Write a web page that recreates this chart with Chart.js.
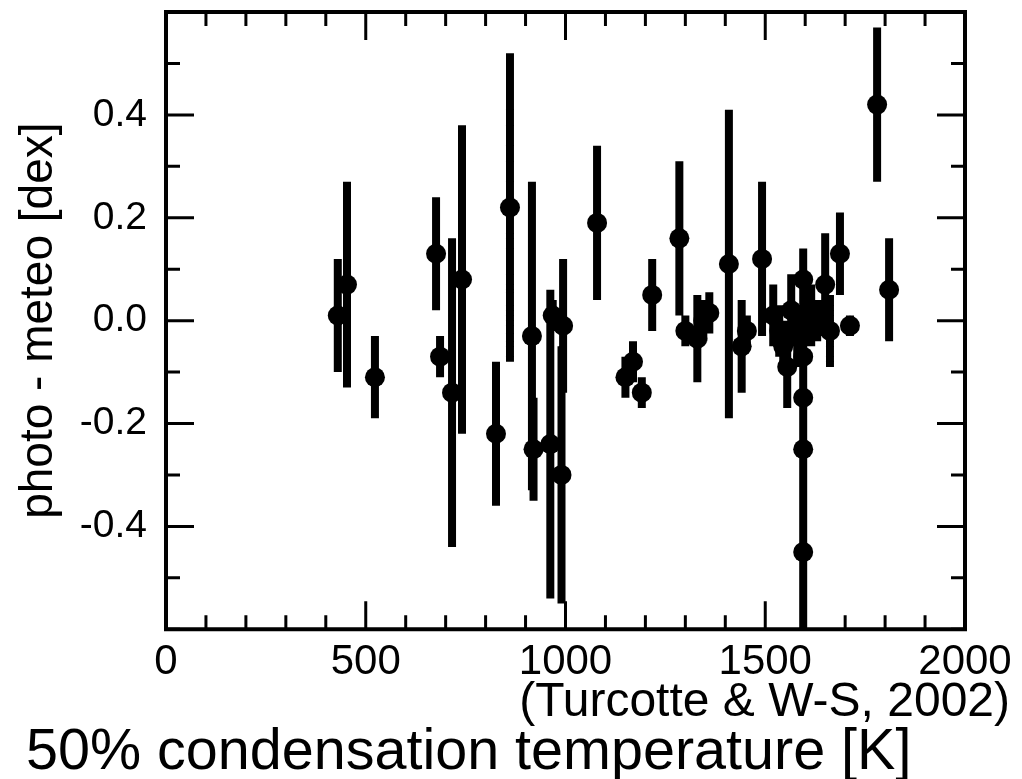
<!DOCTYPE html>
<html>
<head>
<meta charset="utf-8">
<script src="https://cdn.jsdelivr.net/npm/chart.js@4.4.1/dist/chart.umd.min.js"></script>
<style>
  html, body { margin: 0; padding: 0; background: #fff; }
</style>
</head>
<body>
<canvas id="myChart" width="1022" height="779"></canvas>
<script>
// condensation temperature [K], abundance difference [dex], error [dex]
const temps = [430, 453, 523, 676, 686, 716, 741, 826, 861, 916,
               920, 962, 968, 990, 994, 1079, 1150, 1169, 1191, 1217,
               1285, 1300, 1330, 1345, 1360, 1409, 1441, 1454, 1492, 1520,
               1535, 1545, 1555, 1565, 1580, 1595, 1595, 1595, 1595, 1595,
               1600, 1615, 1630, 1650, 1662, 1687, 1712, 1780, 1810];
const diffs = [0.01, 0.07, -0.11, 0.13, -0.07, -0.14, 0.08, -0.22, 0.22, -0.03,
               -0.25, -0.24, 0.01, -0.30, -0.01, 0.19, -0.11, -0.08, -0.14, 0.05,
               0.16, -0.02, -0.035, 0.0, 0.015, 0.11, -0.05, -0.02, 0.12, 0.01,
               -0.02, -0.05, -0.09, 0.02, -0.03, 0.08, -0.07, -0.15, -0.25, -0.45,
               0.0, 0.01, 0.0, 0.07, -0.02, 0.13, -0.01, 0.42, 0.06];
const errs  = [0.11, 0.20, 0.08, 0.11, 0.04, 0.30, 0.30, 0.14, 0.30, 0.30,
               0.10, 0.30, 0.03, 0.25, 0.13, 0.15, 0.04, 0.04, 0.03, 0.07,
               0.15, 0.03, 0.085, 0.04, 0.04, 0.30, 0.09, 0.03, 0.15, 0.06,
               0.05, 0.05, 0.08, 0.07, 0.06, 0.06, 0.06, 0.10, 0.20, 0.20,
               0.05, 0.06, 0.04, 0.10, 0.07, 0.08, 0.02, 0.15, 0.10];

const xTickLabels = ['0', '500', '1000', '1500', '2000'];
const yTickLabels = ['-0.4', '-0.2', '0.0', '0.2', '0.4'];

const FONT = '"Liberation Sans", Arial, Helvetica, sans-serif';

// points
const points = [];
for (let i = 0; i < temps.length; i++) {
    points.push({x: temps[i], y: diffs[i]});
}
// error bars as broken line segments
const bars = [];
for (let i = 0; i < temps.length; i++) {
    bars.push({x: temps[i], y: diffs[i] - errs[i]});
    bars.push({x: temps[i], y: diffs[i] + errs[i]});
    bars.push({x: temps[i], y: null});
}

// box frame + inward ticks on all four sides
const frameTicks = {
    id: 'frameTicks',
    afterDatasetsDraw(chart) {
        const {ctx, chartArea: a, scales} = chart;
        const x = scales.x, y = scales.y;
        ctx.save();
        ctx.strokeStyle = '#000';
        ctx.lineWidth = 3;
        ctx.beginPath();
        x.ticks.forEach(t => {
            const px = x.getPixelForValue(t.value);
            const len = t.label ? 28 : 14;
            ctx.moveTo(px, a.bottom); ctx.lineTo(px, a.bottom - len);
            ctx.moveTo(px, a.top); ctx.lineTo(px, a.top + len);
        });
        y.ticks.forEach(t => {
            const py = y.getPixelForValue(t.value);
            const len = t.label ? 28 : 14;
            ctx.moveTo(a.left, py); ctx.lineTo(a.left + len, py);
            ctx.moveTo(a.right, py); ctx.lineTo(a.right - len, py);
        });
        ctx.stroke();
        ctx.lineWidth = 4;
        ctx.strokeRect(a.left, a.top, a.right - a.left, a.bottom - a.top);
        ctx.restore();
    }
};

const ctx = document.getElementById('myChart').getContext('2d');
const myChart = new Chart(ctx, {
    data: {
        datasets: [
            {
                type: 'line',
                label: 'error',
                data: bars,
                borderColor: '#000',
                borderWidth: 8,
                borderCapStyle: 'butt',
                pointRadius: 0,
                spanGaps: false,
                fill: false
            },
            {
                type: 'scatter',
                label: 'photo - meteo',
                data: points,
                backgroundColor: '#000',
                borderWidth: 0,
                pointRadius: 10,
                pointHoverRadius: 10
            }
        ]
    },
    options: {
        responsive: false,
        animation: false,
        devicePixelRatio: 1,
        layout: {
            padding: {left: 26, right: 12, top: 12, bottom: 0}
        },
        plugins: {
            legend: {display: false},
            tooltip: {enabled: false},
            title: {
                display: true,
                position: 'bottom',
                align: 'start',
                text: '50% condensation temperature [K]',
                color: '#000',
                font: {family: FONT, size: 57.5, weight: 'normal', lineHeight: 0.9},
                padding: {top: 0, bottom: 0}
            },
            subtitle: {
                display: true,
                position: 'bottom',
                align: 'end',
                text: '(Turcotte & W-S, 2002)',
                color: '#000',
                font: {family: FONT, size: 48, weight: 'normal', lineHeight: 1.0},
                padding: 0
            }
        },
        scales: {
            x: {
                type: 'linear',
                position: 'bottom',
                min: 0,
                max: 2000,
                grid: {display: false},
                border: {display: false},
                ticks: {
                    stepSize: 100,
                    autoSkip: false,
                    maxRotation: 0,
                    padding: 0,
                    color: '#000',
                    font: {family: FONT, size: 42},
                    callback: v => {
                        const s = String(Math.round(v));
                        return xTickLabels.includes(s) ? s : '';
                    }
                },
                afterFit: s => { s.height = 50; }
            },
            y: {
                type: 'linear',
                position: 'left',
                min: -0.6,
                max: 0.6,
                grid: {display: false},
                border: {display: false},
                title: {
                    display: true,
                    text: 'photo - meteo [dex]',
                    color: '#000',
                    font: {family: FONT, size: 46, lineHeight: 1.0},
                    padding: {top: -10, bottom: 0}
                },
                ticks: {
                    stepSize: 0.1,
                    autoSkip: false,
                    padding: 11,
                    color: '#000',
                    font: {family: FONT, size: 39},
                    callback: v => {
                        let s = (Math.round(v * 10) / 10).toFixed(1);
                        if (s === '-0.0') s = '0.0';
                        return yTickLabels.includes(s) ? s : '';
                    }
                },
                afterFit: s => { s.width = 140; s.paddingTop = 0; s.paddingBottom = 0; }
            },
            yR: {
                type: 'linear',
                position: 'right',
                min: 0,
                max: 1,
                grid: {display: false},
                border: {display: false},
                ticks: {display: false},
                afterFit: s => { s.width = 45; }
            }
        }
    },
    plugins: [frameTicks]
});
</script>
</body>
</html>
